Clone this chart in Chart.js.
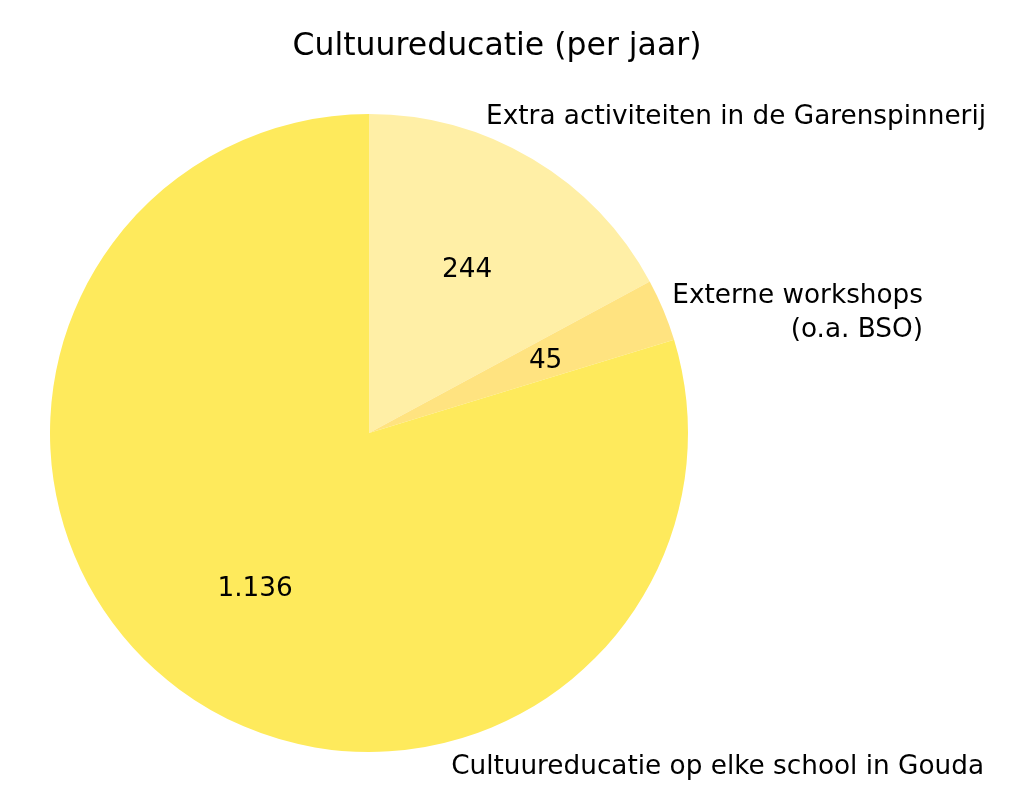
<!DOCTYPE html>
<html>
<head>
<meta charset="utf-8">
<script src="https://cdn.jsdelivr.net/npm/chart.js@4"></script>
<style>
  html, body { margin: 0; padding: 0; background: #fff; }
  #wrap { width: 1024px; height: 803px; }
</style>
</head>
<body>
<div id="wrap"><canvas id="pieChart"></canvas></div>
<script>
const categories = [
  "Extra activiteiten in de Garenspinnerij",
  "Externe workshops\n(o.a. BSO)",
  "Cultuureducatie op elke school in Gouda"
];
const values = [244, 45, 1136];
const valueLabels = ["244", "45", "1.136"];
const colors = ["#FFEFA6", "#FFE380", "#FEEA5C"];

// where the outer labels sit: [x, y, align]
const labelSpots = [
  [986, 117, "right"],
  [923, 296, "right"],
  [984, 767, "right"]
];

const FONT = "'DejaVu Sans', sans-serif";

const pieLabels = {
  id: "pieLabels",
  afterDatasetsDraw(chart) {
    const ctx = chart.ctx;
    const arcs = chart.getDatasetMeta(0).data;
    ctx.save();
    ctx.fillStyle = "#000";
    ctx.textBaseline = "middle";

    // value inside the slice, 60% out from centre
    ctx.font = "26.3px " + FONT;
    ctx.textAlign = "center";
    arcs.forEach((arc, i) => {
      const mid = (arc.startAngle + arc.endAngle) / 2;
      const r = arc.outerRadius * 0.6;
      ctx.fillText(valueLabels[i], arc.x + Math.cos(mid) * r, arc.y + Math.sin(mid) * r + 2);
    });

    // category names outside
    categories.forEach((name, i) => {
      const [x, y, align] = labelSpots[i];
      ctx.textAlign = align;
      name.split("\n").forEach((line, j) => ctx.fillText(line, x, y + j * 34));
    });

    // title
    ctx.font = "31.5px " + FONT;
    ctx.textAlign = "center";
    ctx.fillText("Cultuureducatie (per jaar)", 497, 47);
    ctx.restore();
  }
};

const chart = new Chart(document.getElementById("pieChart").getContext("2d"), {
  type: "pie",
  data: {
    labels: categories,
    datasets: [{
      data: values,
      backgroundColor: colors,
      borderWidth: 0
    }]
  },
  options: {
    responsive: true,
    maintainAspectRatio: false,
    animation: false,
    layout: { padding: { left: 50, right: 336, top: 114, bottom: 51 } },
    plugins: {
      legend: { display: false },
      tooltip: { enabled: false },
      title: { display: false }
    }
  },
  plugins: [pieLabels]
});
</script>
</body>
</html>
